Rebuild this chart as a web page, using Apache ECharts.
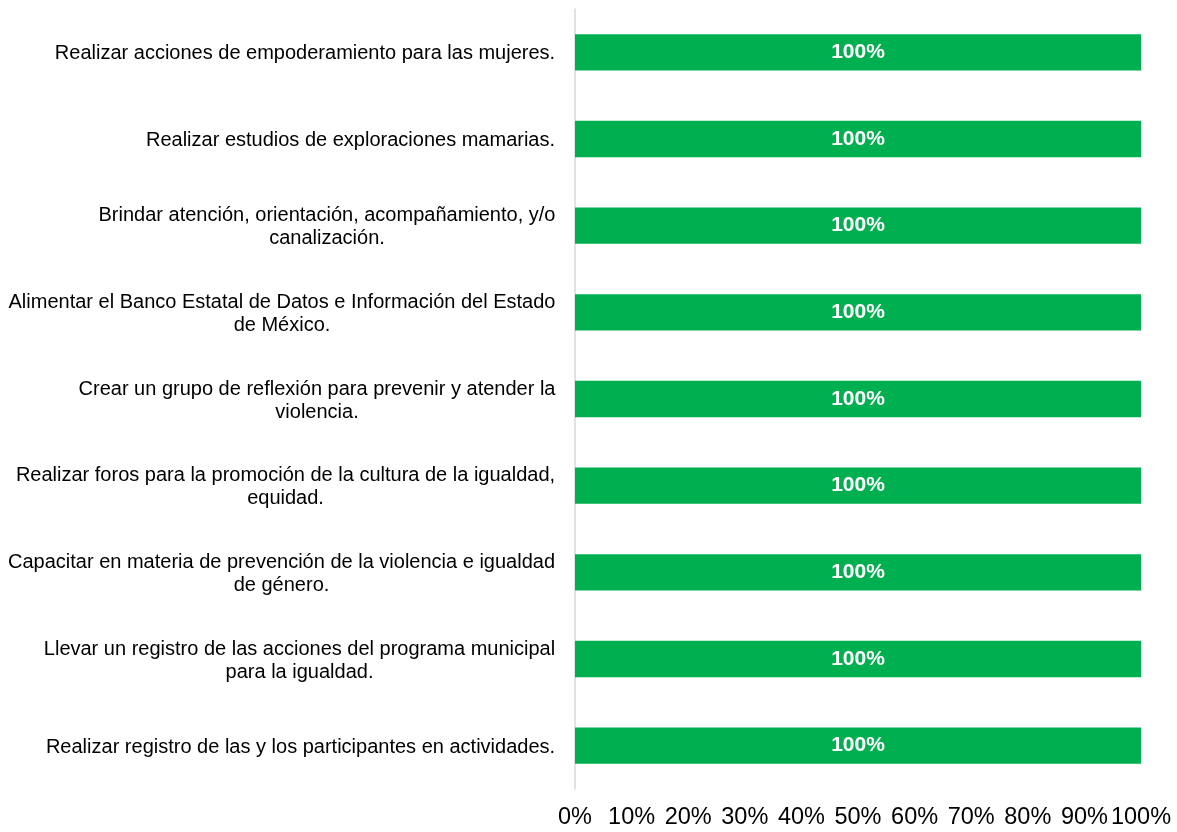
<!DOCTYPE html>
<html>
<head>
<meta charset="utf-8">
<script src="https://cdn.jsdelivr.net/npm/echarts@6/dist/echarts.min.js"></script>
<style>
  html, body { margin: 0; padding: 0; background: #fff; }
  #chart { width: 1177px; height: 832px; }
</style>
</head>
<body>
<div id="chart"></div>
<script>
// datos de la grafica
var categorias = [
  "Realizar acciones de empoderamiento para las mujeres.",
  "Realizar estudios de exploraciones mamarias.",
  "Brindar atención, orientación, acompañamiento, y/o\ncanalización.",
  "Alimentar el Banco Estatal de Datos e Información del Estado\nde México.",
  "Crear un grupo de reflexión para prevenir y atender la\nviolencia.",
  "Realizar foros para la promoción de la cultura de la igualdad,\nequidad.",
  "Capacitar en materia de prevención de la violencia e igualdad\nde género.",
  "Llevar un registro de las acciones del programa municipal\npara la igualdad.",
  "Realizar registro de las y los participantes en actividades."
];
var avance = [100, 100, 100, 100, 100, 100, 100, 100, 100];
var ejeMin = 0;
var ejeMax = 100;
var ejePaso = 10;

(function() {
  var fuente = '"Liberation Sans", Arial, sans-serif';
  var tamCat = 20;

  // medir cada etiqueta para centrar las lineas dentro del bloque
  var ctx = document.createElement("canvas").getContext("2d");
  ctx.font = tamCat + "px " + fuente;
  var rich = {};
  categorias.forEach(function(c, i) {
    var ancho = 0;
    c.split("\n").forEach(function(l) {
      ancho = Math.max(ancho, ctx.measureText(l).width);
    });
    rich["c" + i] = {
      width: Math.ceil(ancho) + 1,
      align: "center",
      fontSize: tamCat,
      lineHeight: 23,
      color: "#000",
      fontFamily: fuente
    };
  });

  var myChart = echarts.init(document.getElementById("chart"));
  var option = {
    backgroundColor: "#fff",
    animation: false,
    grid: {
      left: 575,
      right: 36,
      top: 9,
      bottom: 43,
      containLabel: false
    },
    xAxis: {
      type: "value",
      min: ejeMin,
      max: ejeMax,
      interval: ejePaso,
      axisLine: { show: false },
      axisTick: { show: false },
      splitLine: { show: false },
      axisLabel: {
        formatter: "{value}%",
        fontSize: 23.5,
        color: "#000",
        fontFamily: fuente,
        margin: 17
      }
    },
    yAxis: {
      type: "category",
      inverse: true,
      data: categorias,
      axisTick: { show: false },
      axisLine: { lineStyle: { color: "#d9d9d9", width: 1.5 } },
      axisLabel: {
        margin: 19,
        align: "right",
        interval: 0,
        padding: [3, 0, 0, 0],
        formatter: function(v) {
          var i = categorias.indexOf(v);
          return v.split("\n").map(function(l) {
            return "{c" + i + "|" + l + "}";
          }).join("\n");
        },
        rich: rich
      }
    },
    series: [
      {
        type: "bar",
        data: avance,
        barCategoryGap: "58%",
        itemStyle: { color: "#00b050" },
        label: {
          show: true,
          position: "inside",
          formatter: "{c}%",
          color: "#fff",
          fontWeight: "bold",
          fontSize: 21,
          fontFamily: fuente
        }
      }
    ]
  };
  myChart.setOption(option);
})();
</script>
</body>
</html>
